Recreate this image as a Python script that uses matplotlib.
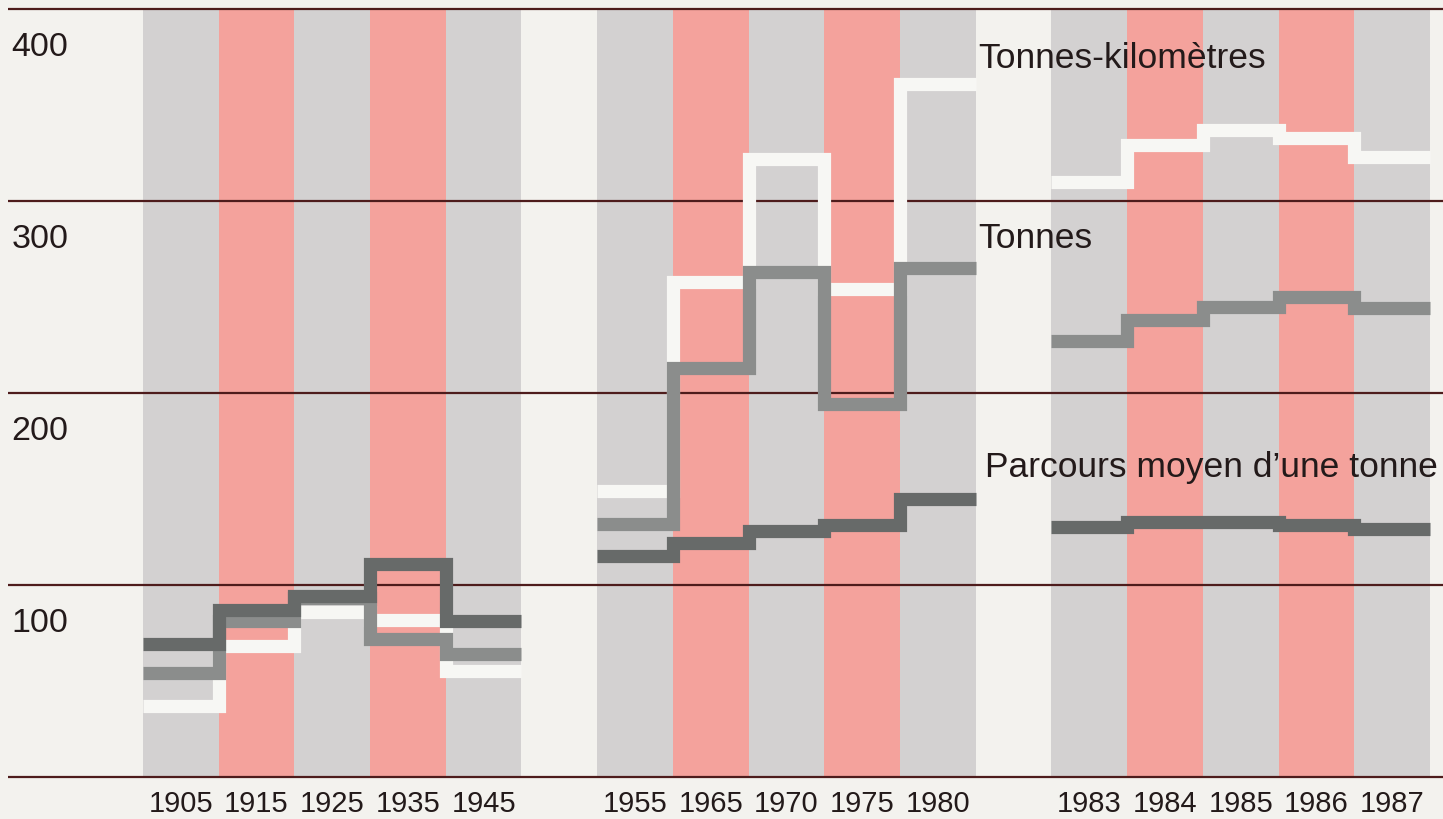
import matplotlib.pyplot as plt
import numpy as np

# Années des trois groupes de colonnes
years_1 = ["1905", "1915", "1925", "1935", "1945"]
years_2 = ["1955", "1965", "1970", "1975", "1980"]
years_3 = ["1983", "1984", "1985", "1986", "1987"]

# Indices
tonnes_km_1 = [37, 68, 86, 82, 55]
tonnes_km_2 = [149, 258, 322, 254, 361]
tonnes_km_3 = [310, 329, 337, 333, 323]

tonnes_1 = [54, 81, 93, 72, 64]
tonnes_2 = [132, 213, 263, 194, 265]
tonnes_3 = [227, 238, 245, 250, 244]

parcours_1 = [69, 87, 94, 111, 81]
parcours_2 = [115, 122, 128, 131, 145]
parcours_3 = [130, 133, 133, 131, 129]

y_ticks = [0, 100, 200, 300, 400]
series_labels = ["Tonnes-kilomètres", "Tonnes", "Parcours moyen d\u2019une tonne"]

# couleurs
paper = "#f3f2ee"
bar_gray = "#d3d1d1"
bar_pink = "#f4a29c"
rule_color = "#4e1c1c"
white_line = "#f7f7f4"
mid_line = "#8b8d8c"
dark_line = "#676a69"
text_color = "#231a1a"

plt.rcParams['font.family'] = ['Liberation Sans', 'DejaVu Sans']

fig = plt.figure(figsize=(14.43, 8.2), dpi=100, facecolor=paper)
ax = fig.add_axes([0, 0, 1, 1])
ax.set_facecolor(paper)
ax.set_xlim(-2.389, 16.673)
ax.set_ylim(-21.9, 405.2)
ax.axis("off")

groups = [
    (0, years_1, tonnes_km_1, tonnes_1, parcours_1),
    (6, years_2, tonnes_km_2, tonnes_2, parcours_2),
    (12, years_3, tonnes_km_3, tonnes_3, parcours_3),
]

# colonnes de fond
for start, years, tk, t, pm in groups:
    pos = start + np.arange(len(years))
    colors = [bar_gray if i % 2 == 0 else bar_pink for i in range(len(years))]
    ax.bar(pos, 400, width=1.0, color=colors, linewidth=0, zorder=1)
    for p, lab in zip(pos, years):
        ax.text(p, -13.5, lab, ha="center", va="center", fontsize=21, color=text_color)

# lignes horizontales
for v in y_ticks:
    ax.hlines(v, -2.28, 16.7, color=rule_color, linewidth=1.6, zorder=2)
    if v > 0:
        ax.text(-2.24, v - 19.5, str(v), ha="left", va="center", fontsize=24.5, color=text_color)

# courbes en escalier
for start, years, tk, t, pm in groups:
    edges = start - 0.5 + np.arange(len(years) + 1)
    ax.stairs(tk, edges, baseline=None, color=white_line, linewidth=9.5, zorder=3)
    ax.stairs(t, edges, baseline=None, color=mid_line, linewidth=9.5, zorder=4)
    ax.stairs(pm, edges, baseline=None, color=dark_line, linewidth=9.5, zorder=5)

# étiquettes des séries
ax.text(10.53, 374.5, series_labels[0], ha="left", va="center", fontsize=25.5, color=text_color, zorder=6)
ax.text(10.53, 281, series_labels[1], ha="left", va="center", fontsize=25.5, color=text_color, zorder=6)
ax.text(10.62, 161.5, series_labels[2], ha="left", va="center", fontsize=25.5, color=text_color, zorder=6)

fig.savefig("out.png", dpi=100, facecolor=paper)
